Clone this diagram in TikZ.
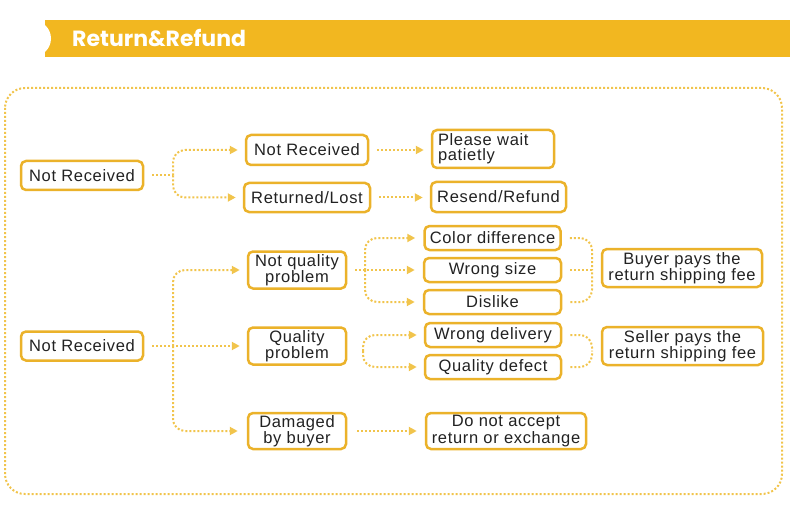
\documentclass[tikz,border=0pt]{standalone}
\usepackage{fontspec}
\setmainfont{Liberation Sans}[LetterSpace=4]
\newfontfamily\headfont{Poppins}
\usetikzlibrary{arrows.meta}
\definecolor{barc}{HTML}{F2B720}
\definecolor{boxc}{HTML}{EBB22A}
\definecolor{dotc}{HTML}{F1C44C}
\definecolor{txtc}{HTML}{222222}
\tikzset{
  box/.style={draw=boxc, line width=2.5pt, rounded corners=5pt, fill=white, inner sep=0pt,
    align=center, text=txtc, font=\fontsize{16.5}{15}\selectfont},
  dl/.style={draw=dotc, line width=2pt, dash pattern=on 2pt off 2pt},
  arr/.style={-{Triangle[length=8pt,width=8pt,fill=dotc,color=dotc]}},
  rc/.style={rounded corners=12pt}
}
\begin{document}
\begin{tikzpicture}[x=1pt,y=-1pt]
\useasboundingbox (0,0) rectangle (800,505);
% header
\fill[barc] (45,20) rectangle (790,57);
\fill[white] (33,38.5) circle (18);
\node[anchor=base west, text=white, font=\headfont\bfseries\fontsize{22}{22}\selectfont, inner sep=0pt] (title) at (72,47) {Return\&Refund};
% outer border
\draw[dl, rounded corners=20pt] (5,88) rectangle (782,494);
% group 1
\node[box, minimum width=122pt, minimum height=29pt] (nr1) at (82,175.5) {Not Received};
\node[box, minimum width=122pt, minimum height=30pt] (nra) at (307,150) {Not Received};
\node[box, minimum width=126pt, minimum height=29pt] (rl) at (307,197.5) {Returned/Lost};
\node[box, minimum width=122pt, minimum height=38pt, align=left, text width=110pt] (pw) at (493,149) {Please wait\\patietly};
\node[box, minimum width=135pt, minimum height=30pt] (rr) at (498.5,197) {Resend/Refund};
\coordinate (j1) at (173,175.5);
\draw[dl] ([xshift=8pt]nr1.east) -- (j1);
\draw[dl,arr,rc] (j1) |- ([xshift=-7pt]nra.west);
\draw[dl,arr,rc] (j1) |- ([xshift=-7pt]rl.west);
\draw[dl,arr] ([xshift=8pt]nra.east) -- ([xshift=-7pt]pw.west |- nra.east);
\draw[dl,arr] ([xshift=8pt]rl.east) -- ([xshift=-7pt]rr.west |- rl.east);
% group 2
\node[box, minimum width=122pt, minimum height=29pt] (nr2) at (82,346) {Not Received};
\node[box, minimum width=98pt, minimum height=37pt] (nqp) at (297,270) {Not quality\\problem};
\node[box, minimum width=98pt, minimum height=37pt] (qp) at (297,346) {Quality\\problem};
\node[box, minimum width=98pt, minimum height=36pt] (db) at (297,431) {Damaged\\by buyer};
\node[box, minimum width=160pt, minimum height=36pt] (dna) at (506,431) {Do not accept\\return or exchange};
\node[box, minimum width=136pt, minimum height=24pt] (cd) at (492.5,238) {Color difference};
\node[box, minimum width=137pt, minimum height=24pt] (ws) at (492.5,270) {Wrong size};
\node[box, minimum width=137pt, minimum height=24pt] (dl) at (492.5,302) {Dislike};
\node[box, minimum width=136pt, minimum height=24pt] (wd) at (493,335) {Wrong delivery};
\node[box, minimum width=136pt, minimum height=24pt] (qd) at (493,367) {Quality defect};
\node[box, minimum width=160pt, minimum height=38pt] (bp) at (682,268) {Buyer pays the\\return shipping fee};
\node[box, minimum width=161pt, minimum height=38pt] (sp) at (682.5,346) {Seller pays the\\return shipping fee};
\coordinate (t2) at (173,346);
\draw[dl,arr] ([xshift=8pt]nr2.east) -- ([xshift=-7pt]qp.west);
\draw[dl,arr,rc] (t2) |- ([xshift=-7pt]nqp.west);
\draw[dl,arr,rc] (t2) |- ([xshift=-9pt]db.west);
\draw[dl,arr] ([xshift=10pt]db.east) -- ([xshift=-8pt]dna.west);
% not quality sub-bracket
\coordinate (b1) at (365,270);
\draw[dl,arr] ([xshift=8pt]nqp.east) -- ([xshift=-8pt]ws.west);
\draw[dl,arr,rc] (b1) |- ([xshift=-8pt]cd.west);
\draw[dl,arr,rc] (b1) |- ([xshift=-8pt]dl.west);
\coordinate (r1) at (592,270);
\draw[dl,rc] ([xshift=8pt]cd.east) -| (r1);
\draw[dl,rc] ([xshift=8pt]dl.east) -| (r1);
\draw[dl] ([xshift=8pt]ws.east) -- (r1);
% quality sub-bracket
\coordinate (b2) at (363,351);
\draw[dl,arr,rc] (b2) |- ([xshift=-7pt]wd.west);
\draw[dl,arr,rc] (b2) |- ([xshift=-7pt]qd.west);
\coordinate (r2) at (592,351);
\draw[dl,rc] ([xshift=8pt]wd.east) -| (r2);
\draw[dl,rc] ([xshift=8pt]qd.east) -| (r2);
\end{tikzpicture}
\end{document}
